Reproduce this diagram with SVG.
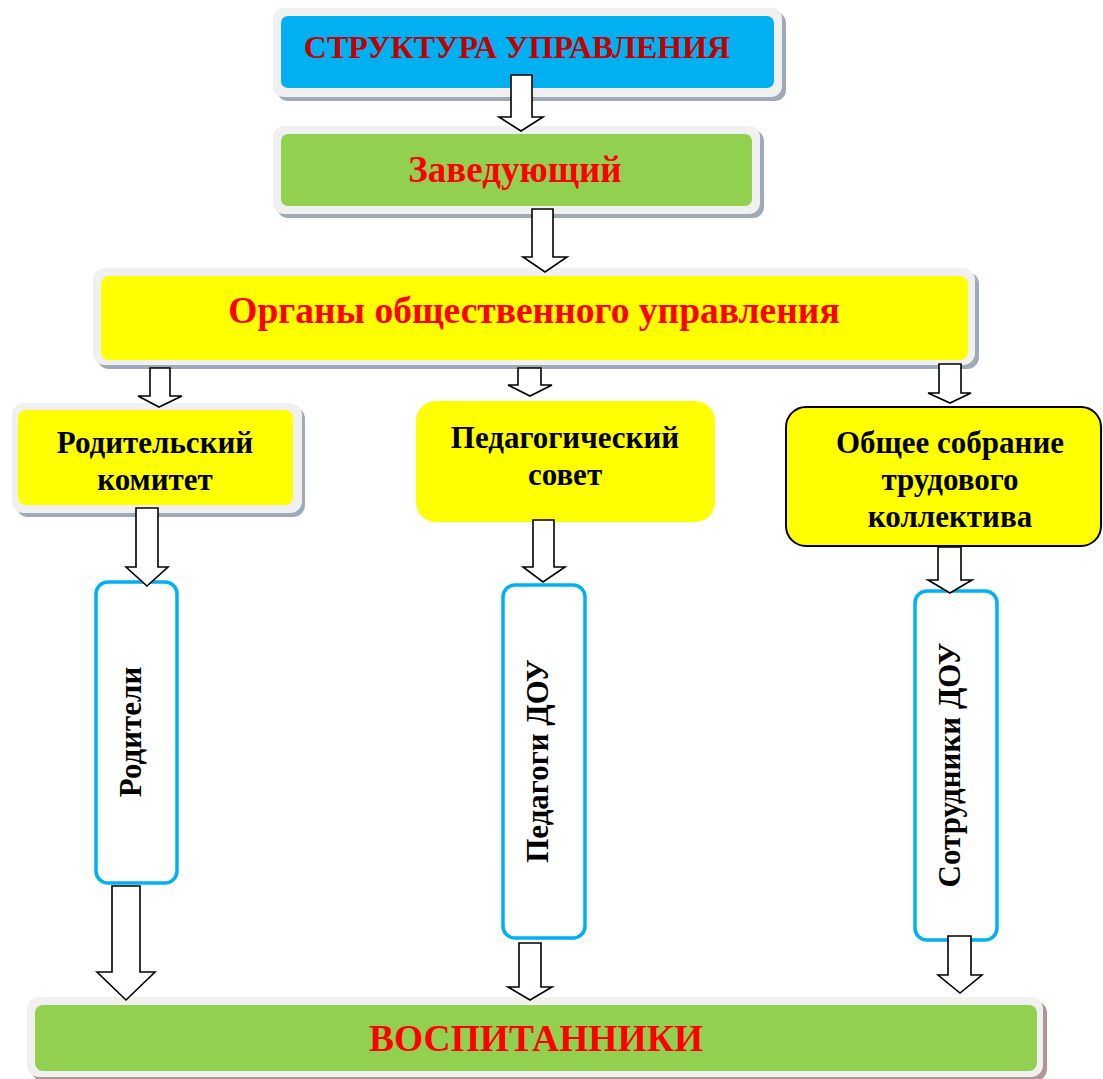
<svg xmlns="http://www.w3.org/2000/svg" width="1103" height="1079" viewBox="0 0 1103 1079">
<style>
.frame{fill:#f0f0f0}
.shadow{fill:#9eaab8}
.shadow2{fill:#b39494}
.t{font-family:"Liberation Serif","Times New Roman",serif;font-weight:bold;text-anchor:middle}
.red{fill:#ff0000}
.blk{fill:#000;font-size:31px}
.vbox{fill:#fff;stroke:#00b0f0;stroke-width:3.5}
.arr{fill:#fff;stroke:#000;stroke-width:1.6;stroke-linejoin:miter}
</style>
<rect width="1103" height="1079" fill="#fff"/>
<g id="node-title">
<rect class="shadow" x="277" y="12" width="509" height="89" rx="11"/>
<rect class="frame" x="273" y="8" width="509" height="89" rx="11"/>
<rect x="281" y="16" width="493" height="72" rx="7" fill="#00b0f0"/>
<text class="t" x="517" y="58" font-size="32" fill="#c00000">СТРУКТУРА УПРАВЛЕНИЯ</text>
</g>
<g id="node-head">
<rect class="shadow" x="277" y="130" width="487" height="88" rx="11"/>
<rect class="frame" x="273" y="126" width="487" height="88" rx="11"/>
<rect x="281" y="134" width="471" height="72" rx="7" fill="#92d050"/>
<text class="t red" x="515" y="182" font-size="37">Заведующий</text>
</g>
<g id="node-organs">
<rect class="shadow" x="97" y="272" width="882" height="97" rx="12"/>
<rect class="frame" x="93" y="268" width="882" height="97" rx="12"/>
<rect x="101" y="276" width="867" height="84" rx="8" fill="#ffff00"/>
<text class="t red" x="534" y="323" font-size="37.5">Органы общественного управления</text>
</g>
<g id="node-parcom">
<rect class="shadow" x="16" y="407" width="289" height="110" rx="12"/>
<rect class="frame" x="12" y="403" width="290" height="110" rx="12"/>
<rect x="18" y="410" width="275" height="95" rx="8" fill="#ffff00"/>
<text class="t blk" x="155" y="453">Родительский</text>
<text class="t blk" x="155" y="490">комитет</text>
</g>
<g id="node-pedsovet">
<rect x="416" y="401" width="299" height="121" rx="20" fill="#ffff00"/>
<text class="t blk" x="565" y="448">Педагогический</text>
<text class="t blk" x="565" y="485">совет</text>
</g>
<g id="node-sobranie">
<rect x="786" y="407" width="315" height="139" rx="20" fill="#ffff00" stroke="#000" stroke-width="2"/>
<text class="t blk" x="950" y="453">Общее собрание</text>
<text class="t blk" x="950" y="490">трудового</text>
<text class="t blk" x="950" y="527">коллектива</text>
</g>
<g id="node-parents">
<rect class="vbox" x="96" y="582" width="81" height="301" rx="12"/>
<text class="t blk" transform="translate(141,732) rotate(-90)">Родители</text>
</g>
<g id="node-teachers">
<rect class="vbox" x="503" y="585" width="82" height="353" rx="12"/>
<text class="t blk" transform="translate(548,761) rotate(-90)">Педагоги ДОУ</text>
</g>
<g id="node-staff">
<rect class="vbox" x="915" y="591" width="82" height="349" rx="12"/>
<text class="t blk" transform="translate(960,765) rotate(-90)">Сотрудники ДОУ</text>
</g>
<g id="node-pupils">
<rect class="shadow2" x="31" y="1001" width="1016" height="80" rx="12"/>
<rect class="frame" x="27" y="997" width="1016" height="80" rx="12"/>
<rect x="35" y="1005" width="1002" height="66" rx="8" fill="#92d050"/>
<text class="t red" x="536" y="1051" font-size="37.5">ВОСПИТАННИКИ</text>
</g>
<g id="connectors">
<polygon class="arr" points="511,75 532,75 532,117 543,117 521,131 499,117 511,117"/>
<polygon class="arr" points="532,209 553,209 553,257 567,257 545,272 523,257 532,257"/>
<polygon class="arr" points="150,368 170,368 170,396 182,396 159,407 138,396 150,396"/>
<polygon class="arr" points="518,368 541,368 541,385 552,385 530,396 508,385 518,385"/>
<polygon class="arr" points="939,364 961,364 961,393 971,393 950,403 928,393 939,393"/>
<polygon class="arr" points="136,508 158,508 158,567 168,567 147,586 126,567 136,567"/>
<polygon class="arr" points="533,520 554,520 554,567 565,567 543,582 523,567 533,567"/>
<polygon class="arr" points="938,547 961,547 961,580 972,580 950,593 928,580 938,580"/>
<polygon class="arr" points="112,886 140,886 140,972 155,972 126,1000 97,972 112,972"/>
<polygon class="arr" points="519,943 541,943 541,987 552,987 530,1000 508,987 519,987"/>
<polygon class="arr" points="948,936 971,936 971,975 982,975 960,993 938,975 948,975"/>
</g>
</svg>
